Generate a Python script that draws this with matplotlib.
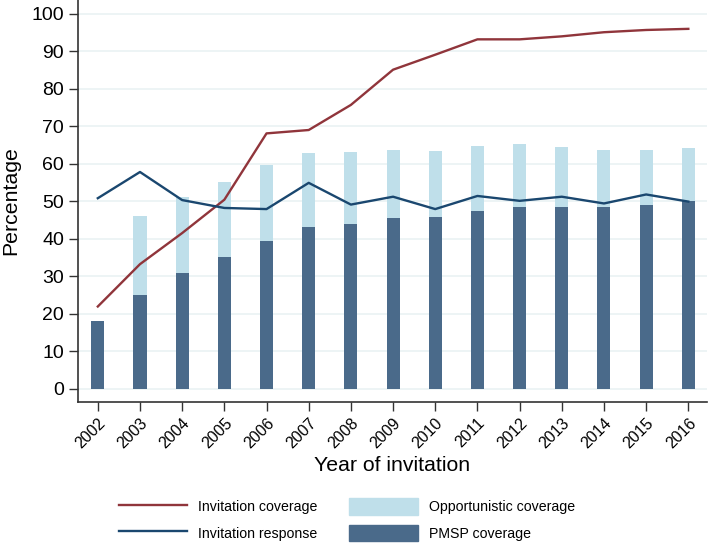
import matplotlib
matplotlib.use("Agg")
import matplotlib.pyplot as plt
from matplotlib.lines import Line2D
from matplotlib.patches import Patch

plt.rcParams["font.family"] = ["Liberation Sans", "DejaVu Sans"]

years = [2002, 2003, 2004, 2005, 2006, 2007, 2008, 2009, 2010, 2011, 2012, 2013, 2014, 2015, 2016]
total_coverage = [17.9, 46.1, 51.2, 55.2, 59.7, 62.9, 63.2, 63.7, 63.4, 64.8, 65.2, 64.4, 63.7, 63.7, 64.2]
pmsp_coverage = [17.9, 24.9, 30.9, 35.1, 39.4, 43.1, 44.0, 45.4, 45.8, 47.5, 48.5, 48.5, 48.5, 48.9, 50.0]
invitation_coverage = [21.9, 33.2, 41.5, 50.4, 68.1, 69.0, 75.7, 85.1, 89.1, 93.2, 93.2, 94.0, 95.1, 95.7, 96.0]
invitation_response = [50.8, 57.8, 50.3, 48.2, 47.9, 54.9, 49.1, 51.2, 47.9, 51.4, 50.1, 51.2, 49.4, 51.8, 49.9]

RED = "#90353b"
NAVY = "#1a476f"
LIGHT = "#bfdfea"
DARK = "#4a6a8a"

fig = plt.figure(figsize=(7.09, 5.46), dpi=100)
ax = fig.add_axes([0.110, 0.264, 0.887, 0.736])

ax.bar(years, total_coverage, width=0.31, color=LIGHT, zorder=2)
ax.bar(years, pmsp_coverage, width=0.31, color=DARK, zorder=3)
ax.plot(years, invitation_coverage, color=RED, linewidth=1.7, zorder=4)
ax.plot(years, invitation_response, color=NAVY, linewidth=1.7, zorder=5)

ax.set_xlim(2001.53, 2016.44)
ax.set_ylim(-3.55, 103.7)
ax.set_yticks(range(0, 101, 10))
ax.set_xticks(years)
ax.set_xticklabels([str(y) for y in years], rotation=45, ha="right", rotation_mode="anchor", fontsize=11.5)
ax.tick_params(axis="y", labelsize=14, length=6.5, width=1, color="#333333")
ax.tick_params(axis="x", length=6.5, width=1, color="#333333")
ax.grid(axis="y", color="#eaf2f3", linewidth=1.2, zorder=0)
ax.set_axisbelow(True)
for side in ["top", "right"]:
    ax.spines[side].set_visible(False)
for side in ["left", "bottom"]:
    ax.spines[side].set_color("#333333")
    ax.spines[side].set_linewidth(1.2)

ax.set_ylabel("Percentage", fontsize=15.3, labelpad=8)
ax.set_xlabel("Year of invitation", fontsize=15.3, labelpad=3)

handles = [
    Line2D([], [], color=RED, linewidth=1.7),
    Line2D([], [], color=NAVY, linewidth=1.7),
    Patch(color=LIGHT),
    Patch(color=DARK),
]
labels = ["Invitation coverage", "Invitation response", "Opportunistic coverage", "PMSP coverage"]
fig.legend(handles, labels, loc="center", bbox_to_anchor=(0.489, 0.048), ncol=2, frameon=False,
           fontsize=10.2, handlelength=4.85, handleheight=1.4, handletextpad=0.77,
           columnspacing=2.2, labelspacing=0.7)

fig.savefig("out.png", dpi=100)
